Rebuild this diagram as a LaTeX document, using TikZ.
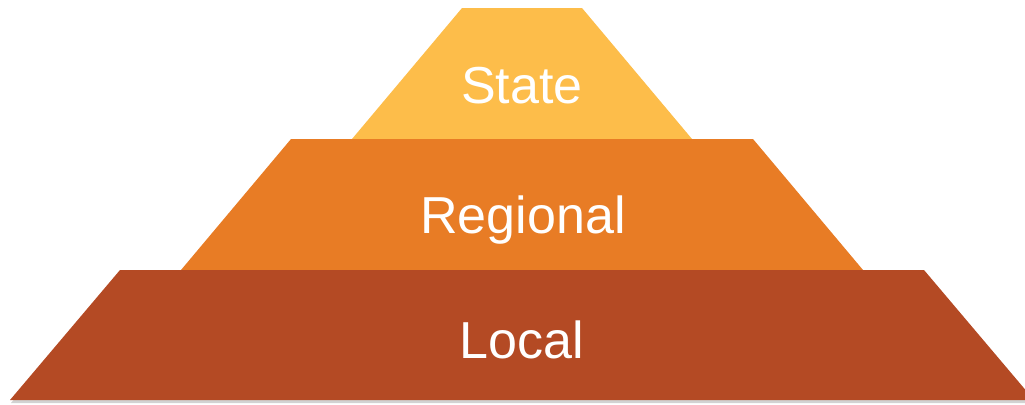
\documentclass[tikz,border=0pt]{standalone}
\usepackage{fontspec}
\setmainfont{Liberation Sans}
\usepackage{tikz}
\usetikzlibrary{positioning}
\definecolor{stateyellow}{HTML}{FDBD4A}
\definecolor{regionorange}{HTML}{E87C25}
\definecolor{localbrown}{HTML}{B44A24}
\tikzset{
	tier/.style={draw=none},
	tiershadow/.style={fill=black!35,opacity=0.5},
	tierlabel/.style={text=white,anchor=base,font=\fontsize{37}{40}\selectfont,inner sep=0pt}
}

\begin{document}
\begin{tikzpicture}[x=0.025cm,y=-0.025cm]
				\useasboundingbox (0,0) rectangle (1025,404);
				%Corners
				\coordinate      (s0) 	at 	(462,8);
				\coordinate      (s1) 	at 	(582,8);
				\coordinate      (s2) 	at 	(692,139);
				\coordinate      (s3) 	at 	(352,139);
				\coordinate      (r0) 	at 	(291,139);
				\coordinate      (r1) 	at 	(753,139);
				\coordinate      (r2) 	at 	(863,270);
				\coordinate      (r3) 	at 	(181,270);
				\coordinate      (l0) 	at 	(120,270);
				\coordinate      (l1) 	at 	(924,270);
				\coordinate      (l2) 	at 	(1034,400);
				\coordinate      (l3) 	at 	(10,400);

				%Shadows
				\fill[tiershadow] ([shift={(1,2)}]s0) -- ([shift={(1,2)}]s1) -- ([shift={(1,2)}]s2) -- ([shift={(1,2)}]s3) -- cycle;
				\fill[tiershadow] ([shift={(1,2)}]r0) -- ([shift={(1,2)}]r1) -- ([shift={(1,2)}]r2) -- ([shift={(1,2)}]r3) -- cycle;
				\fill[tiershadow] ([shift={(1,3)}]l0) -- ([shift={(1,3)}]l1) -- ([shift={(1,3)}]l2) -- ([shift={(1,3)}]l3) -- cycle;

				%Tiers
				\fill[tier,stateyellow] (s0) -- (s1) -- (s2) -- (s3) -- cycle;
				\fill[tier,regionorange] (r0) -- (r1) -- (r2) -- (r3) -- cycle;
				\fill[tier,localbrown] (l0) -- (l1) -- (l2) -- (l3) -- cycle;

				%Labels
				\node[tierlabel] (state) 	at (522,103) {State};
				\node[tierlabel] (regional) at (523,233) {Regional};
				\node[tierlabel] (local) 	at (522,358) {Local};
\end{tikzpicture}
\end{document}
